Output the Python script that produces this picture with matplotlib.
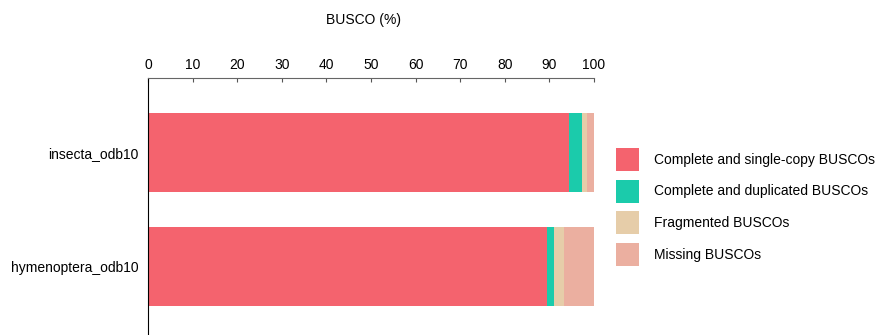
import matplotlib.pyplot as plt

plt.rcParams['font.family'] = ['Liberation Sans', 'DejaVu Sans']

lineages = ['insecta_odb10', 'hymenoptera_odb10']
single_copy = [94.4, 89.5]
duplicated = [2.9, 1.5]
fragmented = [1.1, 2.3]
missing = [1.6, 6.7]

categories = ['Complete and single-copy BUSCOs', 'Complete and duplicated BUSCOs',
              'Fragmented BUSCOs', 'Missing BUSCOs']
colors = ['#F4636E', '#1BCBAB', '#E6CDA9', '#EBAFA0']

fig = plt.figure(figsize=(8.77, 3.35), dpi=100)
ax = fig.add_axes([148 / 877, 0, (594 - 148) / 877, (335 - 78) / 335])

series = [single_copy, duplicated, fragmented, missing]
left = [0] * len(lineages)
for vals, col, lab in zip(series, colors, categories):
    ax.barh(range(len(lineages)), vals, left=left, height=0.69, color=col, label=lab)
    left = [a + b for a, b in zip(left, vals)]

ax.set_xlim(0, 100)
ax.set_ylim(1.6, -0.655)
ax.set_yticks(range(len(lineages)))
ax.set_yticklabels(lineages)
ax.set_xticks(range(0, 101, 10))
ax.xaxis.tick_top()
ax.tick_params(axis='x', colors='#555555', labelcolor='black', length=3, direction='in', pad=4, labelsize=10)
ax.tick_params(axis='y', length=0, pad=7, labelsize=10)
ax.spines['right'].set_visible(False)
ax.spines['bottom'].set_visible(False)
ax.spines['top'].set_color('#666666')
ax.spines['left'].set_color('black')

fig.text(364 / 877, 1 - 20 / 335, 'BUSCO (%)', ha='center', va='center', fontsize=10)

leg = fig.legend(loc='upper left', bbox_to_anchor=(616 / 877, 1 - 148 / 335), frameon=False,
                 fontsize=10, handlelength=1.65, handleheight=2.17, labelspacing=0.62,
                 handletextpad=1.08, borderaxespad=0, borderpad=0)

fig.savefig('out.png', dpi=100)
